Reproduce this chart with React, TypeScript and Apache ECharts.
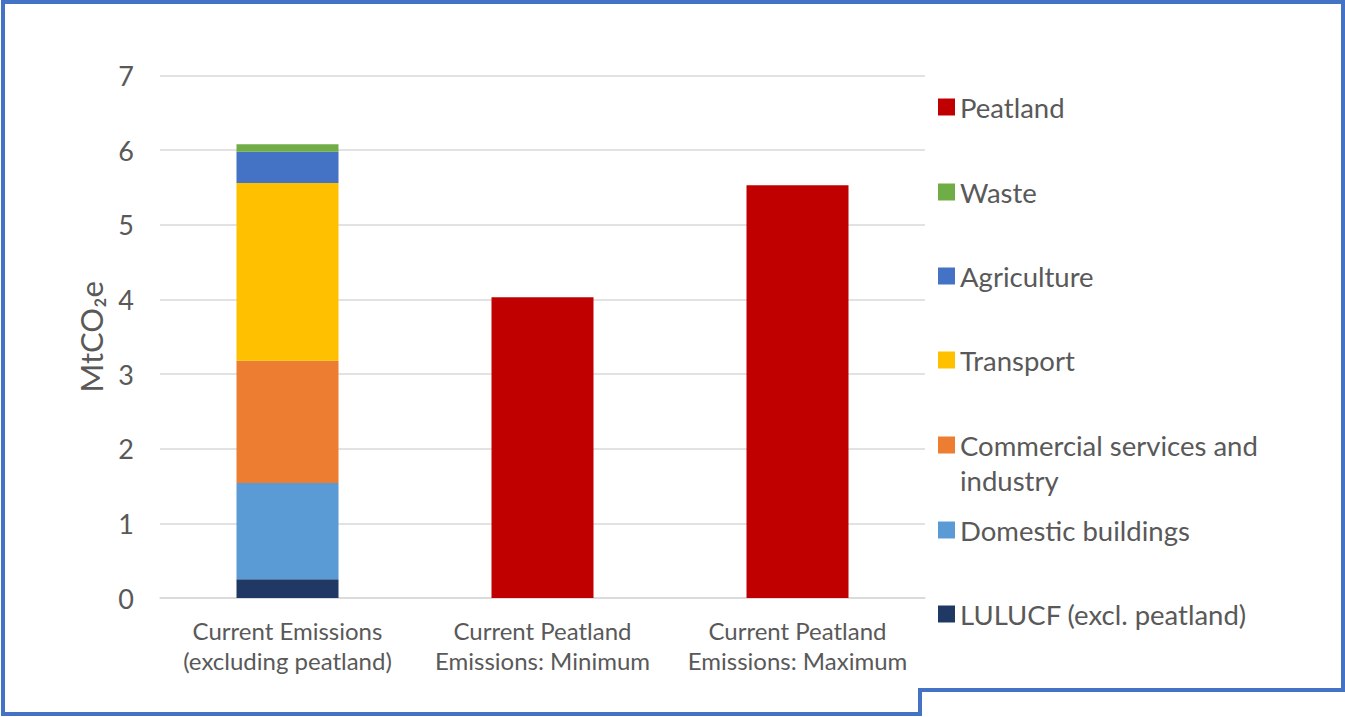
import React, { useEffect, useRef } from "react";
import * as echarts from "echarts";

const categories = [
  "Current Emissions\n(excluding peatland)",
  "Current Peatland\nEmissions: Minimum",
  "Current Peatland\nEmissions: Maximum",
];

// Sector emissions, stacked bottom to top (MtCO2e)
const lulucf = [0.25, null, null];
const domestic = [1.29, null, null];
const commercial = [1.64, null, null];
const transport = [2.38, null, null];
const agriculture = [0.42, null, null];
const waste = [0.1, null, null];
const peatland = [null, 4.03, 5.53];

const yTicks = { min: 0, max: 7, interval: 1 };

const seriesDefs = [
  { name: "LULUCF (excl. peatland)", data: lulucf, color: "#203864" },
  { name: "Domestic buildings", data: domestic, color: "#5B9BD5" },
  { name: "Commercial services and industry", data: commercial, color: "#ED7D31" },
  { name: "Transport", data: transport, color: "#FFC000" },
  { name: "Agriculture", data: agriculture, color: "#4472C4" },
  { name: "Waste", data: waste, color: "#70AD47" },
  { name: "Peatland", data: peatland, color: "#C00000" },
];

const legendOrder = [
  "Peatland",
  "Waste",
  "Agriculture",
  "Transport",
  "Commercial services and industry",
  "Domestic buildings",
  "LULUCF (excl. peatland)",
];
// vertical centre of each legend swatch
const legendCenters = [107, 192, 276, 360, 445, 530, 614];

const FONT = "Lato";
const TEXT = "#595959";
const WRAPPED = "Commercial services and industry";

export default function App() {
  const ref = useRef<HTMLDivElement>(null);

  useEffect(() => {
    document.body.style.margin = "0";
    const chart = echarts.init(ref.current!, null, { renderer: "svg" });

    const legends = legendOrder.map((name, i) => {
      const multi = name === WRAPPED;
      const c = legendCenters[i];
      return {
        left: 938,
        top: multi ? c - 52.5 : c - 15,
        padding: 0,
        itemWidth: 17,
        itemHeight: 17,
        icon: "rect",
        data: [multi ? { name, textStyle: { lineHeight: 35 } } : { name }],
        // a blank first line keeps the swatch level with "Commercial services and"
        formatter: (n: string) => (n === WRAPPED ? "\nCommercial services and\nindustry" : n),
        textStyle: { fontFamily: FONT, fontSize: 27.5, color: TEXT, lineHeight: 30 },
      };
    });

    chart.setOption({
      animation: false,
      backgroundColor: "#ffffff",
      textStyle: { fontFamily: FONT },
      grid: { left: 160, right: 420, top: 75.5, bottom: 119, containLabel: false },
      legend: legends,
      xAxis: {
        type: "category",
        data: categories,
        axisLine: { show: true, lineStyle: { color: "#d9d9d9", width: 1.5 } },
        axisTick: { show: false },
        axisLabel: {
          interval: 0,
          fontFamily: FONT,
          fontSize: 24,
          color: TEXT,
          lineHeight: 30,
          margin: 17,
        },
      },
      yAxis: {
        type: "value",
        min: yTicks.min,
        max: yTicks.max,
        interval: yTicks.interval,
        name: "MtCO₂e",
        nameLocation: "middle",
        nameGap: 54,
        nameTextStyle: { fontFamily: FONT, fontSize: 31, color: TEXT },
        axisLine: { show: false },
        axisTick: { show: false },
        axisLabel: { fontFamily: FONT, fontSize: 27, color: TEXT, margin: 26 },
        splitLine: { lineStyle: { color: "#d9d9d9", width: 1.5 } },
      },
      series: seriesDefs.map((s) => ({
        name: s.name,
        type: "bar",
        stack: "total",
        barWidth: "40%",
        data: s.data,
        itemStyle: { color: s.color },
      })),
      graphic: [
        {
          type: "polygon",
          silent: true,
          shape: {
            points: [
              [3, 2],
              [1343, 2],
              [1343, 690],
              [920, 690],
              [920, 714],
              [3, 714],
            ],
          },
          style: { fill: "none", stroke: "#4472C4", lineWidth: 4 },
        },
      ],
    });

    return () => chart.dispose();
  }, []);

  return <div ref={ref} style={{ width: 1345, height: 717 }} />;
}
